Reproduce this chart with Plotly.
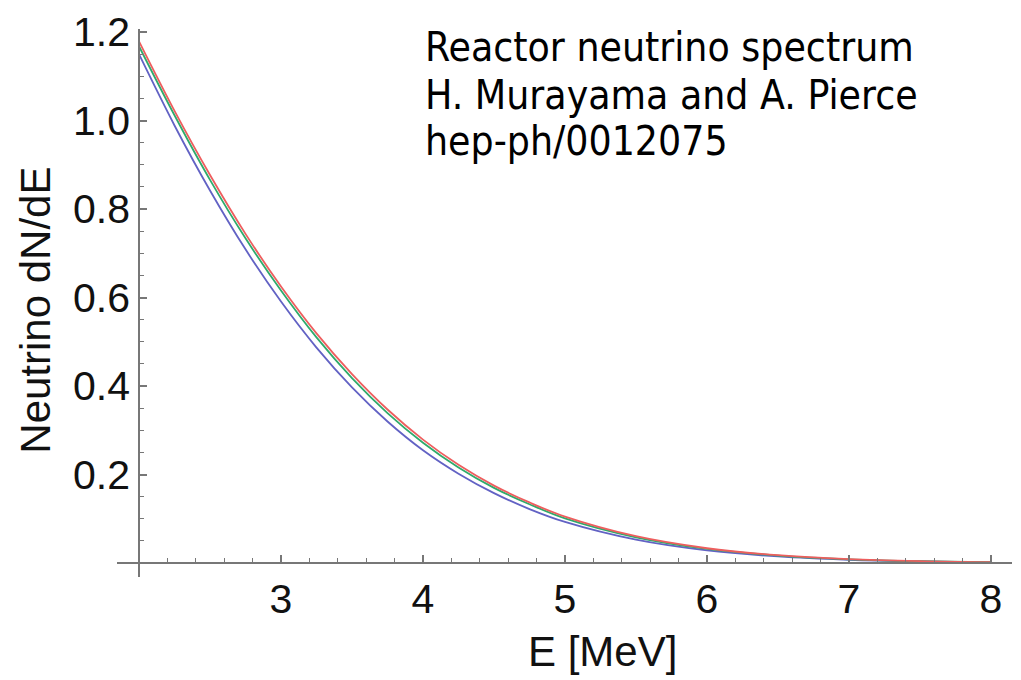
import plotly.graph_objects as go

# Energy grid [MeV] and the three spectra
energy = [2.0, 2.25, 2.5, 2.75, 3.0, 3.25, 3.5, 3.75, 4.0, 4.25, 4.5, 4.75, 5.0, 5.5, 6.0, 6.5, 7.0, 7.5, 8.0]
red_vals = [1.179, 1.022, 0.877, 0.744, 0.625, 0.519, 0.427, 0.347, 0.279, 0.222, 0.175, 0.137, 0.105,
            0.0607, 0.0335, 0.0178, 0.0090, 0.0044, 0.0020]
green_vals = [1.168, 1.012, 0.866, 0.734, 0.616, 0.510, 0.418, 0.339, 0.272, 0.216, 0.170, 0.133, 0.101,
              0.0583, 0.0320, 0.0169, 0.0085, 0.0041, 0.0019]
blue_vals = [1.150, 0.989, 0.842, 0.709, 0.591, 0.487, 0.397, 0.320, 0.255, 0.202, 0.158, 0.122, 0.0929,
             0.0528, 0.0286, 0.0150, 0.0074, 0.0036, 0.0016]

x_ticks = [3, 4, 5, 6, 7, 8]
y_ticks = [0.2, 0.4, 0.6, 0.8, 1.0, 1.2]
y_tick_text = ["0.2", "0.4", "0.6", "0.8", "1.0", "1.2"]

note_lines = ["Reactor neutrino spectrum", "H. Murayama and A. Pierce", "hep-ph/0012075"]

fig = go.Figure()
for vals, col in [(blue_vals, "#6262C4"), (green_vals, "#2FAA6C"), (red_vals, "#EE5E5E")]:
    fig.add_trace(go.Scatter(x=energy, y=vals, mode="lines",
                             line=dict(color=col, width=1.8, shape="spline", smoothing=1.0),
                             showlegend=False, hoverinfo="skip"))

x_range = [1.845, 8.148]
y_range = [-0.0315, 1.207]
tick_font = dict(family="Liberation Sans, Arial, sans-serif", size=41, color="#111111")
axis_col = "#777777"

fig.update_layout(
    width=1021, height=680,
    margin=dict(l=117, r=9, t=26, b=103),
    paper_bgcolor="white", plot_bgcolor="white",
    xaxis=dict(range=x_range, anchor="free",
               position=(0 - y_range[0]) / (y_range[1] - y_range[0]),
               showgrid=False, zeroline=False, showline=True, linecolor=axis_col, linewidth=1.5,
               ticks="inside", ticklen=7, tickwidth=1.5, tickcolor=axis_col,
               tickvals=x_ticks, tickfont=tick_font,
               minor=dict(ticks="inside", ticklen=4, tickwidth=1, tickcolor=axis_col, dtick=0.2, tick0=2)),
    yaxis=dict(range=y_range, anchor="free",
               position=(2 - x_range[0]) / (x_range[1] - x_range[0]),
               showgrid=False, zeroline=False, showline=True, linecolor=axis_col, linewidth=1.5,
               ticks="inside", ticklen=7, tickwidth=1.5, tickcolor=axis_col,
               tickvals=y_ticks, ticktext=y_tick_text, tickfont=tick_font,
               minor=dict(ticks="inside", ticklen=4, tickwidth=1, tickcolor=axis_col, dtick=0.05, tick0=0)),
)

title_font = dict(family="Liberation Sans, Arial, sans-serif", size=42, color="#111111")
fig.add_annotation(text="E [MeV]", xref="paper", yref="paper", x=(602 - 117) / 895, y=-0.136,
                   xanchor="center", yanchor="middle", showarrow=False, font=title_font)
fig.add_annotation(text="Neutrino dN/dE", xref="paper", yref="paper", x=-0.0905, y=0.486,
                   xanchor="center", yanchor="middle", textangle=-90, showarrow=False, font=title_font)

note_font = dict(family="DejaVu Sans Condensed, DejaVu Sans, sans-serif", size=40.5, color="#000000")
for line, ypos in zip(note_lines, [1.166, 1.058, 0.953]):
    fig.add_annotation(text=line, xref="x", yref="y", x=4.0, y=ypos,
                       xanchor="left", yanchor="middle", showarrow=False, font=note_font)

fig.write_html("out.html")
